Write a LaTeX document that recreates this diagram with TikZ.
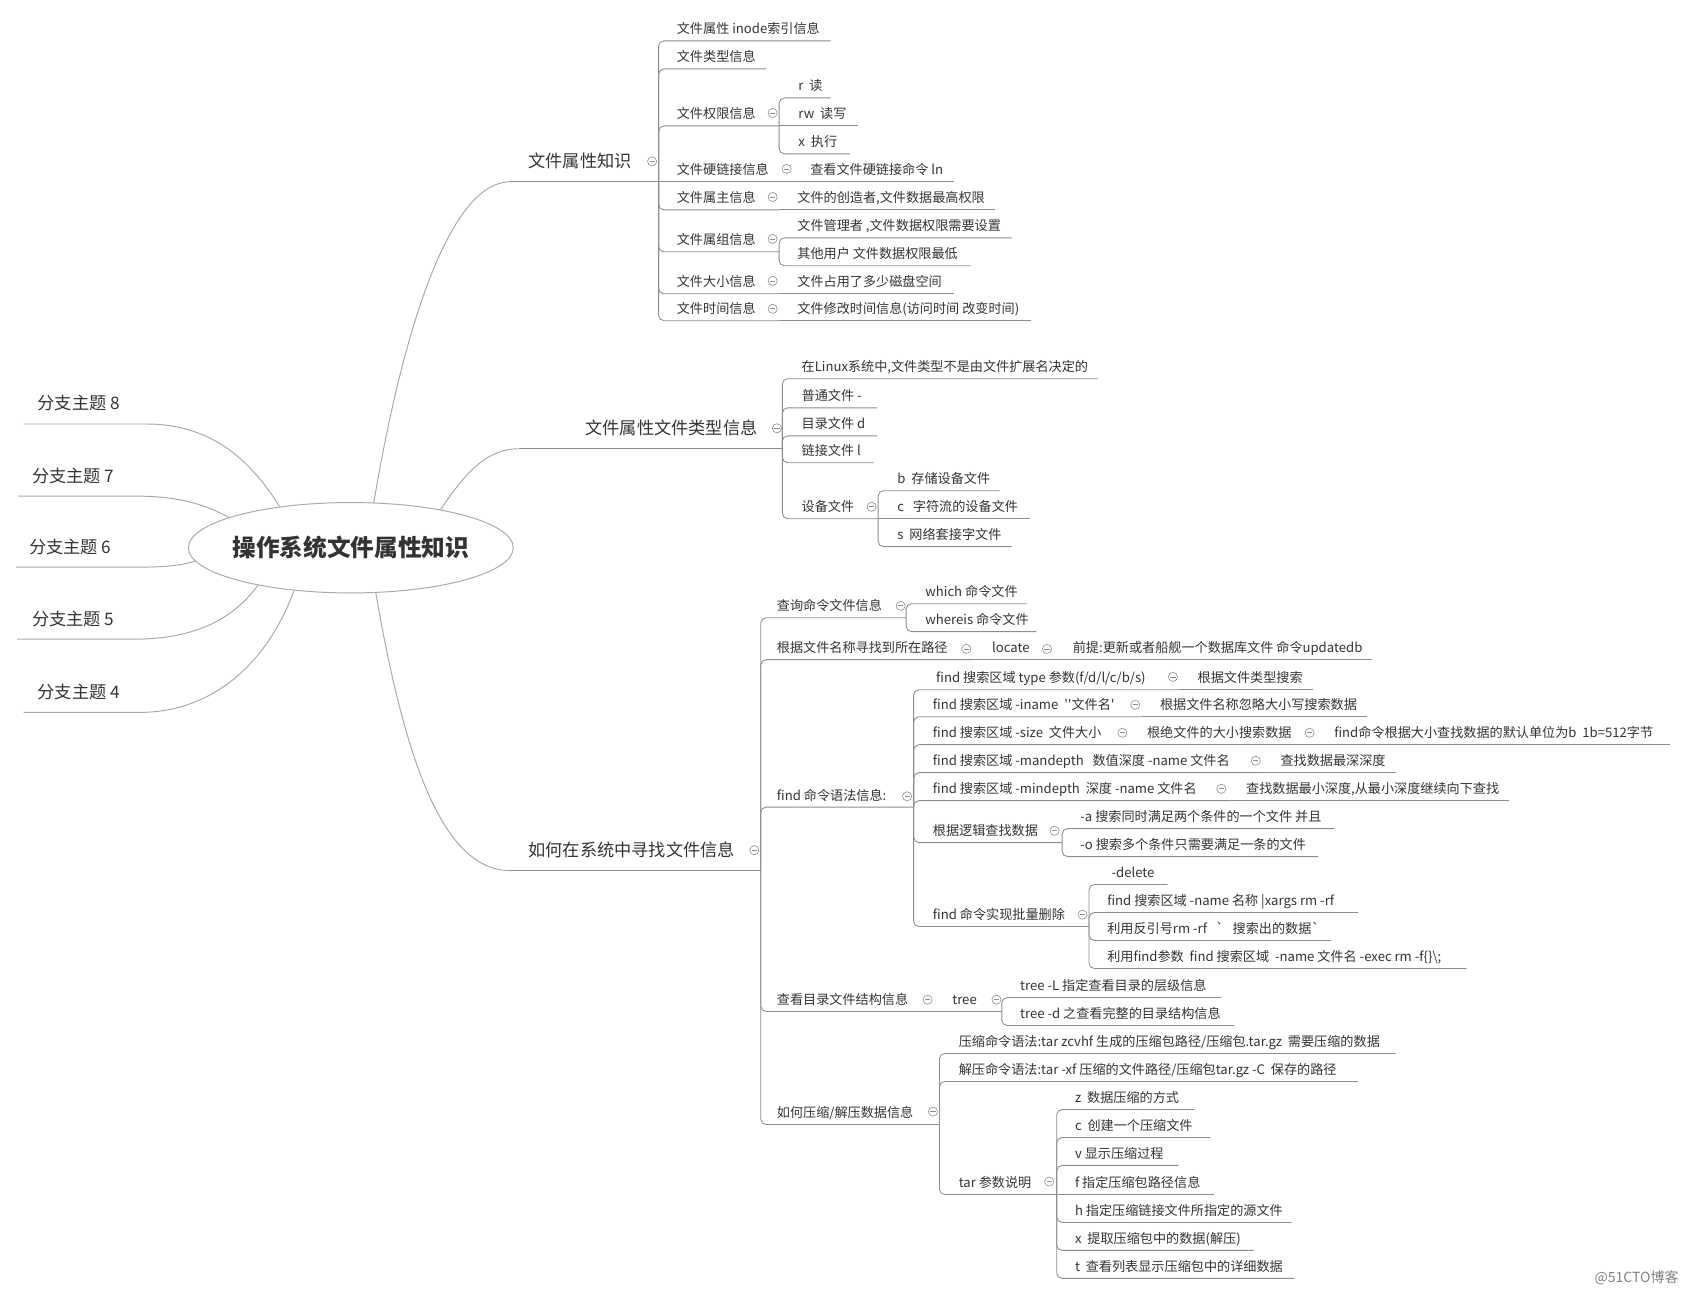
\documentclass[tikz,border=0pt]{standalone}
\usepackage{fontspec}
\newfontfamily\cjk{Noto Sans CJK SC}
\usetikzlibrary{shapes.geometric}
\definecolor{txt}{HTML}{333333}
\definecolor{lnc}{HTML}{8C8C8C}
\definecolor{crv}{HTML}{A8A8A8}
\definecolor{wm}{HTML}{808080}
\newcommand\tp[5]{%
  \node[tx,anchor=base west] (#1) at (#2,#3-6.5) {#5};
  \coordinate (#1-e) at (#4,#3);}
\newcommand\colps[3]{\node[colp] (#1) at (#2,#3) {};}
\begin{document}
\begin{tikzpicture}[x=1pt,y=-1pt,
  tx/.style={inner sep=0,outer sep=0,text=txt,font=\cjk\fontsize{12.2}{14}\selectfont},
  mtx/.style={inner sep=0,outer sep=0,text=txt,font=\cjk\fontsize{16}{18}\selectfont},
  ln/.style={draw=lnc,line width=0.8,rounded corners=5},
  crvln/.style={draw=crv,line width=0.9},
  colp/.style={circle,draw=lnc,line width=0.55,minimum size=8.5,inner sep=0,
    path picture={\draw[lnc,line width=0.65] ([xshift=-2.4]path picture bounding box.center) -- ([xshift=2.4]path picture bounding box.center);}},
  rootst/.style={ellipse,draw=crv,line width=0.9,fill=white,minimum width=302,minimum height=84,inner sep=0},
  rootlbl/.style={inner sep=0,text=txt,font=\cjk\bfseries\fontsize{22}{24}\selectfont}
]
\fill[white] (0,0) rectangle (1564,1200);
\useasboundingbox (0,0) rectangle (1564,1200);

% ---------- left branches ----------
\node[mtx,anchor=base west] (l8) at (35,394-13) {分支主题 8};
\node[mtx,anchor=base west] (l7) at (30,461-13) {分支主题 7};
\node[mtx,anchor=base west] (l6) at (27,527-13) {分支主题 6};
\node[mtx,anchor=base west] (l5) at (30,594-13) {分支主题 5};
\node[mtx,anchor=base west] (l4) at (35,662-13) {分支主题 4};
\coordinate (l8-e) at (22,394); \coordinate (l8-r) at (135,394);
\coordinate (l7-e) at (17,461); \coordinate (l7-r) at (124,461);
\coordinate (l6-e) at (15,527); \coordinate (l6-r) at (130,527);
\coordinate (l5-e) at (16,594); \coordinate (l5-r) at (124,594);
\coordinate (l4-e) at (22,662); \coordinate (l4-r) at (130,662);

% ---------- main branch anchors ----------
\coordinate (b1-s) at (474,169); \coordinate (b1-j) at (612,169);
\coordinate (b2-s) at (482,417); \coordinate (b2-j) at (727,417);
\coordinate (b3-s) at (474,809); \coordinate (b3-j) at (707,809);

\node[rootst] (root) at (326,509) {};
\node[rootlbl] (rootl) at (root.center) {操作系统文件属性知识};

\draw[crvln] (root.150) .. controls (225,415) and (185,394) .. (l8-r) -- (l8-e);
\draw[crvln] (root.166) .. controls (185,466) and (160,461) .. (l7-r) -- (l7-e);
\draw[crvln] (root.185) .. controls (165,526) and (150,527) .. (l6-r) -- (l6-e);
\draw[crvln] (root.202.5) .. controls (212,582) and (170,594) .. (l5-r) -- (l5-e);
\draw[crvln] (root.217.7) .. controls (245,625) and (190,662) .. (l4-r) -- (l4-e);

\draw[crvln] (root.63) .. controls (372,320) and (415,169) .. (b1-s);
\draw[crvln] (root.23) .. controls (432,440) and (452,417) .. (b2-s);
\draw[crvln] (root.-61) .. controls (375,700) and (410,809) .. (b3-s);

% ---------- branch 1 ----------
\node[mtx,anchor=base west] (b1) at (491,169-13) {文件属性知识};
\colps{b1c}{606}{150}
\draw[ln] (b1-s) -- (b1-j);
\tp{a1}{629}{38}{772}{文件属性 inode索引信息}
\tp{a2}{629}{64}{712}{文件类型信息}
\tp{a3}{629}{117}{724}{文件权限信息} \colps{a3c}{718}{105}
\tp{a31}{742}{91}{772}{r\ \ 读}
\tp{a32}{742}{117}{797}{rw\ \ 读写}
\tp{a33}{742}{143}{790}{x\ \ 执行}
\tp{a4}{629}{169}{738}{文件硬链接信息} \colps{a4c}{731}{157}
\tp{a41}{753}{169}{887}{查看文件硬链接命令 ln}
\tp{a5}{629}{195}{724}{文件属主信息} \colps{a5c}{718}{183}
\tp{a51}{741}{195}{925}{文件的创造者,文件数据最高权限}
\tp{a6}{629}{234}{724}{文件属组信息} \colps{a6c}{718}{222}
\tp{a61}{741}{221}{940}{文件管理者 ,文件数据权限需要设置}
\tp{a62}{741}{247}{902}{其他用户 文件数据权限最低}
\tp{a7}{629}{273}{724}{文件大小信息} \colps{a7c}{718}{261}
\tp{a71}{741}{273}{887}{文件占用了多少磁盘空间}
\tp{a8}{629}{298}{724}{文件时间信息} \colps{a8c}{718}{287}
\tp{a81}{741}{298}{958}{文件修改时间信息(访问时间 改变时间)}
\draw[ln] (b1-j) |- (a1-e);
\draw[ln] (b1-j) |- (a2-e);
\draw[ln] (b1-j) |- (a3-e);
\draw[ln] (b1-j) -- (a4-e);
\draw[ln] (b1-j) |- (a5-e);
\draw[ln] (b1-j) |- (a6-e);
\draw[ln] (b1-j) |- (a7-e);
\draw[ln] (b1-j) |- (a8-e);
\draw[ln] (a3-e) |- (a31-e);
\draw[ln] (a3-e) -- (a32-e);
\draw[ln] (a3-e) |- (a33-e);
\draw[ln] (a4-e) -- (a41-e);
\draw[ln] (a5-e) -- (a51-e);
\draw[ln] (a6-e) |- (a61-e);
\draw[ln] (a6-e) |- (a62-e);
\draw[ln] (a7-e) -- (a71-e);
\draw[ln] (a8-e) -- (a81-e);

% ---------- branch 2 ----------
\node[mtx,anchor=base west] (b2) at (544,417-13) {文件属性文件类型信息};
\colps{b2c}{722}{398}
\draw[ln] (b2-s) -- (b2-j);
\tp{c1}{745}{352}{1020}{在Linux系统中,文件类型不是由文件扩展名决定的}
\tp{c2}{745}{379}{815}{普通文件 -}
\tp{c3}{745}{405}{815}{目录文件 d}
\tp{c4}{745}{430}{812}{链接文件 l}
\tp{c5}{745}{482}{816}{设备文件} \colps{c5c}{810}{471}
\tp{c51}{834}{456}{929}{b\ \ 存储设备文件}
\tp{c52}{834}{482}{957}{c\ \ \ 字符流的设备文件}
\tp{c53}{834}{508}{940}{s\ \ 网络套接字文件}
\foreach \c in {c1,c2,c3,c4,c5} {\draw[ln] (b2-j) |- (\c-e);}
\draw[ln] (c5-e) |- (c51-e);
\draw[ln] (c5-e) -- (c52-e);
\draw[ln] (c5-e) |- (c53-e);

% ---------- branch 3 ----------
\node[mtx,anchor=base west] (b3) at (491,809-13) {如何在系统中寻找文件信息};
\colps{b3c}{701}{790}
\draw[ln] (b3-s) -- (b3-j);
\tp{d1}{722}{574}{842}{查询命令文件信息} \colps{d1c}{837}{563}
\tp{d11}{860}{561}{954}{which 命令文件}
\tp{d12}{860}{587}{963}{whereis 命令文件}
\tp{d2}{722}{613}{904}{根据文件名称寻找到所在路径} \colps{d2c}{898}{603}
\tp{d21}{922}{613}{979}{locate} \colps{d21c}{973}{603}
\tp{d22}{997}{613}{1275}{前提:更新或者船舰一个数据库文件 命令updatedb}
\tp{d3}{722}{750}{849}{find 命令语法信息:} \colps{d3c}{843}{740}
\tp{d31}{870}{641}{1096}{find 搜索区域 type 参数(f/d/l/c/b/s)} \colps{d31c}{1090}{629}
\tp{d311}{1113}{641}{1220}{根据文件类型搜索}
\tp{d32}{867}{666}{1061}{find 搜索区域 -iname\ \ ''文件名'} \colps{d32c}{1055}{655}
\tp{d321}{1078}{666}{1270}{根据文件名称忽略大小写搜索数据}
\tp{d33}{867}{692}{1049}{find 搜索区域 -size\ \ 文件大小} \colps{d33c}{1043}{681}
\tp{d331}{1066}{692}{1223}{根绝文件的大小搜索数据} \colps{d331c}{1217}{681}
\tp{d332}{1240}{692}{1552}{find命令根据大小查找数据的默认单位为b\ \ 1b=512字节}
\tp{d34}{867}{718}{1173}{find 搜索区域 -mandepth\ \ \ 数值深度 -name 文件名} \colps{d34c}{1167}{707}
\tp{d341}{1190}{718}{1297}{查找数据最深深度}
\tp{d35}{867}{744}{1141}{find 搜索区域 -mindepth\ \ 深度 -name 文件名} \colps{d35c}{1135}{733}
\tp{d351}{1158}{744}{1402}{查找数据最小深度,从最小深度继续向下查找}
\tp{d36}{867}{783}{987}{根据逻辑查找数据} \colps{d36c}{980}{772}
\tp{d361}{1004}{770}{1240}{-a 搜索同时满足两个条件的一个文件 并且}
\tp{d362}{1004}{796}{1225}{-o 搜索多个条件只需要满足一条的文件}
\tp{d37}{867}{861}{1012}{find 命令实现批量删除} \colps{d37c}{1006}{850}
\tp{d371}{1033}{822}{1085}{-delete}
\tp{d372}{1029}{848}{1262}{find 搜索区域 -name 名称 |xargs rm -rf}
\tp{d373}{1029}{874}{1237}{利用反引号rm -rf\ \ \ \textasciigrave\ \ \ 搜索出的数据\textasciigrave}
\tp{d374}{1029}{900}{1363}{利用find参数\ \ find 搜索区域\ \ -name 文件名 -exec rm -f\{\}\textbackslash;}
\tp{d4}{722}{940}{868}{查看目录文件结构信息} \colps{d4c}{862}{929}
\tp{d41}{885}{940}{931}{tree} \colps{d41c}{926}{929}
\tp{d411}{948}{927}{1135}{tree -L 指定查看目录的层级信息}
\tp{d412}{948}{953}{1147}{tree -d 之查看完整的目录结构信息}
\tp{d5}{722}{1045}{873}{如何压缩/解压数据信息} \colps{d5c}{867}{1033}
\tp{d51}{891}{979}{1297}{压缩命令语法:tar zcvhf 生成的压缩包路径/压缩包.tar.gz\ \ 需要压缩的数据}
\tp{d52}{891}{1005}{1262}{解压命令语法:tar -xf 压缩的文件路径/压缩包tar.gz -C\ \ 保存的路径}
\tp{d53}{891}{1110}{982}{tar 参数说明} \colps{d53c}{975}{1098}
\tp{d531}{999}{1031}{1110}{z\ \ 数据压缩的方式}
\tp{d532}{999}{1057}{1125}{c\ \ 创建一个压缩文件}
\tp{d533}{999}{1083}{1095}{v 显示压缩过程}
\tp{d534}{999}{1110}{1128}{f 指定压缩包路径信息}
\tp{d535}{999}{1136}{1200}{h 指定压缩链接文件所指定的源文件}
\tp{d536}{999}{1162}{1165}{x\ \ 提取压缩包中的数据(解压)}
\tp{d537}{999}{1188}{1203}{t\ \ 查看列表显示压缩包中的详细数据}

\foreach \c in {d1,d2,d3,d4,d5} {\draw[ln] (b3-j) |- (\c-e);}
\draw[ln] (d1-e) |- (d11-e);
\draw[ln] (d1-e) |- (d12-e);
\draw[ln] (d2-e) -- (d21-e);
\draw[ln] (d21-e) -- (d22-e);
\foreach \c in {d31,d32,d33,d34,d35,d36,d37} {\draw[ln] (d3-e) |- (\c-e);}
\draw[ln] (d31-e) -- (d311-e);
\draw[ln] (d32-e) -- (d321-e);
\draw[ln] (d33-e) -- (d331-e);
\draw[ln] (d331-e) -- (d332-e);
\draw[ln] (d34-e) -- (d341-e);
\draw[ln] (d35-e) -- (d351-e);
\draw[ln] (d36-e) |- (d361-e);
\draw[ln] (d36-e) |- (d362-e);
\foreach \c in {d371,d372,d373,d374} {\draw[ln] (d37-e) |- (\c-e);}
\draw[ln] (d4-e) -- (d41-e);
\draw[ln] (d41-e) |- (d411-e);
\draw[ln] (d41-e) |- (d412-e);
\draw[ln] (d5-e) |- (d51-e);
\draw[ln] (d5-e) |- (d52-e);
\draw[ln] (d5-e) |- (d53-e);
\foreach \c in {d531,d532,d533,d535,d536,d537} {\draw[ln] (d53-e) |- (\c-e);}
\draw[ln] (d53-e) -- (d534-e);

% watermark
\node[anchor=base east,inner sep=0,text=wm,font=\cjk\fontsize{13}{15}\selectfont] (wmk) at (1560,1192) {@51CTO博客};
\end{tikzpicture}
\end{document}
